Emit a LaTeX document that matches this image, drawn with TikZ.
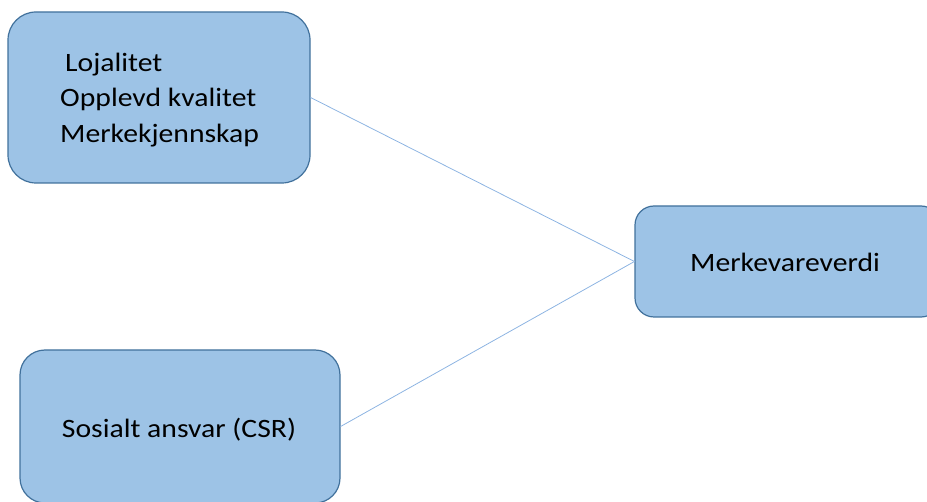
\documentclass[tikz,border=0pt]{standalone}
\usepackage{fontspec}
\setmainfont{Carlito}[FakeStretch=1.12]
\definecolor{boxfill}{HTML}{9DC3E6}
\definecolor{boxdraw}{HTML}{41719C}
\definecolor{linkcol}{HTML}{8DB4E2}
\begin{document}
\begin{tikzpicture}[x=1pt,y=-1pt,
  box/.style={draw=boxdraw,fill=boxfill,line width=1.2pt,rectangle,inner sep=0pt},
  lbl/.style={font=\fontsize{26.5}{35.5}\selectfont,inner sep=0pt,anchor=base},
  link/.style={draw=linkcol,line width=0.8pt}]
\useasboundingbox (0,0) rectangle (927,502);
\clip (0,0) rectangle (927,502);
\node[box,minimum width=302pt,minimum height=171pt,rounded corners=28pt] (a) at (159,97.5) {};
\node[box,minimum width=305pt,minimum height=111pt,rounded corners=19pt] (b) at (787.5,261.5) {};
\node[box,minimum width=320pt,minimum height=153pt,rounded corners=25pt] (c) at (180,426.5) {};
\draw[link] (a.east) -- (b.west);
\draw[link] (c.east) -- (b.west);
\node[lbl,anchor=base west] (t1) at (65,72) {Lojalitet};
\node[lbl,anchor=base west] (t2) at (60,107) {Opplevd kvalitet};
\node[lbl,anchor=base west] (t3) at (60,143) {Merkekjennskap};
\node[lbl] (tb) at (785,272) {Merkevareverdi};
\node[lbl] (tc) at (179,438) {Sosialt ansvar (CSR)};
\end{tikzpicture}
\end{document}
